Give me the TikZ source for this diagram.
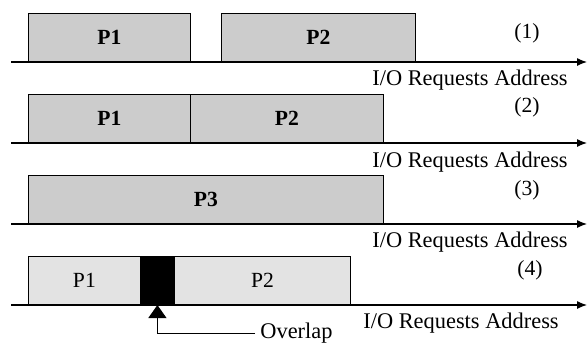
\documentclass[tikz,border=0pt]{standalone}
\usepackage{fontspec}
\setmainfont{Liberation Serif}
\usetikzlibrary{arrows.meta, positioning}
\tikzset{
    procbox/.style={
        draw,
        fill=gray!40,
        minimum height=24pt,
        inner sep=0pt,
        anchor=south west,
        font=\fontsize{10.8}{12}\selectfont\bfseries
    },
    lightbox/.style={procbox, fill=gray!22, font=\fontsize{10.8}{12}\selectfont},
    overlapbox/.style={procbox, fill=black},
    axis/.style={-{Latex[length=5pt,width=4pt]}, line width=0.6pt},
    axislabel/.style={font=\fontsize{11.2}{13}\selectfont, inner sep=0pt},
    caselabel/.style={font=\fontsize{10.8}{12}\selectfont, inner sep=0pt}
}
\begin{document}
\begin{tikzpicture}[x=0.5pt, y=-0.5pt]
        \useasboundingbox (0,0) rectangle (587,348);

        % (1) two separate requests
        \coordinate (s1) at (11,62);
        \coordinate (e1) at (587,62);
        \node[procbox, minimum width=81pt] (p1a) at (28,62) {P1};
        \node[procbox, minimum width=97pt] (p2a) at (221,62) {P2};
        \draw[axis] (s1) -- (e1);
        \node[caselabel] (c1) at (527,33) {(1)};
        \node[axislabel] (l1) at (470,80) {I/O Requests Address};

        % (2) adjacent requests
        \coordinate (s2) at (11,143);
        \coordinate (e2) at (587,143);
        \node[procbox, minimum width=81pt] (p1b) at (28,143) {P1};
        \node[procbox, minimum width=96.5pt] (p2b) at (190,143) {P2};
        \draw[axis] (s2) -- (e2);
        \node[caselabel] (c2) at (527,107) {(2)};
        \node[axislabel] (l2) at (470,162) {I/O Requests Address};

        % (3) merged request
        \coordinate (s3) at (11,224);
        \coordinate (e3) at (587,224);
        \node[procbox, minimum width=177.5pt] (p3) at (28,224) {P3};
        \draw[axis] (s3) -- (e3);
        \node[caselabel] (c3) at (527,190) {(3)};
        \node[axislabel] (l3) at (470,242) {I/O Requests Address};

        % (4) overlapping requests
        \coordinate (s4) at (11,305);
        \coordinate (e4) at (587,305);
        \node[lightbox, minimum width=56pt] (p1c) at (28,305) {P1};
        \node[overlapbox, minimum width=17pt] (ov) at (140,305) {};
        \node[lightbox, minimum width=88pt] (p2c) at (174,305) {P2};
        \draw[axis] (s4) -- (e4);
        \node[caselabel] (c4) at (530,270) {(4)};
        \node[axislabel] (l4) at (461,323) {I/O Requests Address};
        \node[axislabel, anchor=west] (ovl) at (260,333) {Overlap};
        \draw[-{Triangle[length=6.5pt,width=9pt]}, line width=0.5pt] ([xshift=-2.5pt]ovl.west) -| (ov.south);

\end{tikzpicture}
\end{document}
